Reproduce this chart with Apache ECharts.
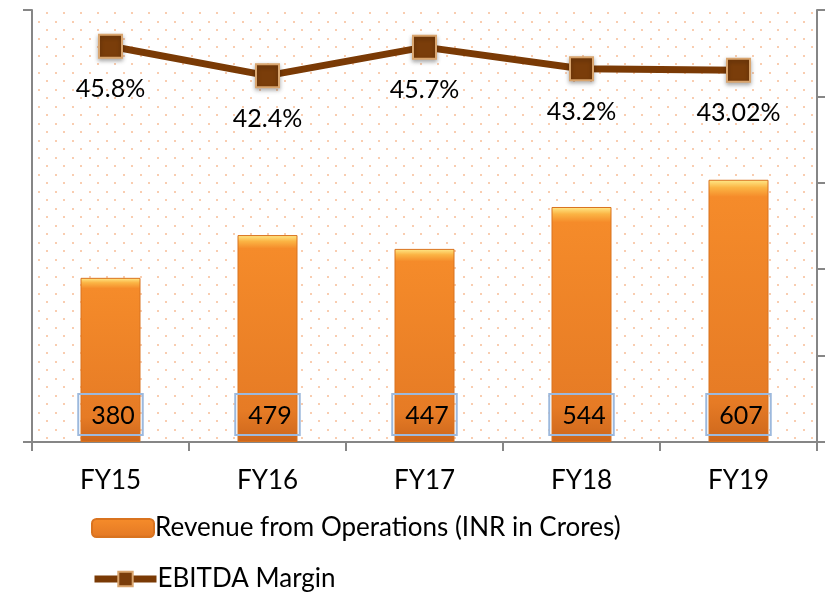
<!DOCTYPE html>
<html>
<head>
<meta charset="utf-8">
<script src="https://cdn.jsdelivr.net/npm/echarts@6/dist/echarts.min.js"></script>
<style>
  html, body { margin: 0; padding: 0; background: #fff; }
  #chart { width: 831px; height: 592px; }
</style>
</head>
<body>
<div id="chart"></div>
<script>
const categories = ["FY15", "FY16", "FY17", "FY18", "FY19"];
const revenue = [380, 479, 447, 544, 607];
const ebitdaMargin = [45.8, 42.4, 45.7, 43.2, 43.02];
const marginLabels = ["45.8%", "42.4%", "45.7%", "43.2%", "43.02%"];
const seriesNames = ["Revenue from Operations (INR in Crores)", "EBITDA Margin"];

const FONT = "Lato";

// dotted plot background
const tile = document.createElement("canvas");
tile.width = 17;
tile.height = 17;
const tctx = tile.getContext("2d");
tctx.fillStyle = "#fff";
tctx.fillRect(0, 0, 17, 17);
tctx.fillStyle = "#F9CDB0";
tctx.fillRect(4, 4, 2, 2);
tctx.fillRect(12, 12, 2, 2);

const chart = echarts.init(document.getElementById("chart"));

const barColor = {
  type: "linear", x: 0, y: 0, x2: 0, y2: 1,
  colorStops: [
    { offset: 0, color: "#FFEB8A" },
    { offset: 0.03, color: "#FBB444" },
    { offset: 0.065, color: "#F58B2A" },
    { offset: 0.85, color: "#E67B25" },
    { offset: 1, color: "#CC661C" },
  ],
};

const axisGray = { color: "#868686", width: 2 };

const legendBase = {
  orient: "vertical",
  left: 86,
  itemWidth: 62,
  itemHeight: 18,
  textStyle: { fontSize: 26, color: "#000", fontFamily: FONT, padding: [0, 0, 0, -4] },
};

const option = {
  animation: false,
  textStyle: { fontFamily: FONT },
  grid: {
    left: 32, right: 14, top: 10, bottom: 150,
    show: true,
    borderWidth: 0,
    backgroundColor: { image: tile, repeat: "repeat" },
  },
  legend: [
    Object.assign({}, legendBase, { top: 510, data: [seriesNames[0]] }),
    Object.assign({}, legendBase, {
      top: 561, data: [seriesNames[1]],
      lineStyle: { width: 7 },
    }),
  ],
  xAxis: {
    type: "category",
    data: categories,
    axisLine: { lineStyle: axisGray },
    axisTick: { show: true, length: 9, lineStyle: axisGray },
    axisLabel: { fontSize: 26, color: "#000", margin: 26, fontFamily: FONT },
  },
  yAxis: [
    {
      type: "value",
      min: 0, max: 50, interval: 50,
      axisLine: { show: true, lineStyle: axisGray },
      axisTick: { show: true, length: 9, lineStyle: axisGray },
      axisLabel: { show: false },
      splitLine: { show: false },
    },
    {
      type: "value",
      position: "right",
      min: 0, max: 1000, interval: 200,
      axisLine: { show: true, lineStyle: axisGray },
      axisTick: { show: true, length: 8, lineStyle: axisGray },
      axisLabel: { show: false },
      splitLine: { show: false },
    },
  ],
  series: [
    {
      name: seriesNames[0],
      type: "bar",
      yAxisIndex: 1,
      data: revenue,
      barWidth: 60,
      itemStyle: { color: barColor, borderColor: "#D9731F", borderWidth: 1 },
      label: {
        show: true,
        position: "insideBottom",
        distance: 7,
        fontSize: 25,
        color: "#000",
        fontFamily: FONT,
        borderColor: "#9DB9DD",
        borderWidth: 2,
        padding: [9, 8, 7, 13],
      },
    },
    {
      name: seriesNames[1],
      type: "line",
      yAxisIndex: 0,
      data: ebitdaMargin,
      symbol: "rect",
      symbolSize: 23,
      lineStyle: { color: "#7A3A05", width: 7 },
      itemStyle: {
        color: "#7A3D0A",
        borderColor: "#D9A56E",
        borderWidth: 2,
        shadowColor: "rgba(0,0,0,0.3)",
        shadowBlur: 4,
        shadowOffsetY: 2,
      },
      label: {
        show: true,
        position: "bottom",
        distance: 18,
        fontSize: 25,
        color: "#000",
        fontFamily: FONT,
        formatter: (p) => marginLabels[p.dataIndex],
      },
    },
  ],
};

chart.setOption(option);
</script>
</body>
</html>
